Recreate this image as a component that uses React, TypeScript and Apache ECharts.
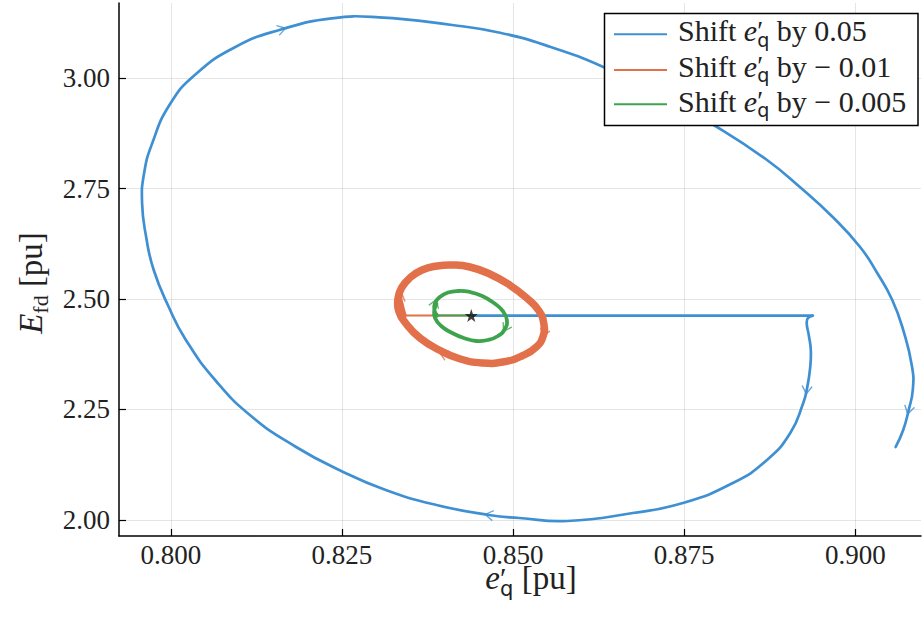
import React, { useEffect, useRef } from "react";
import * as echarts from "echarts";

// ---------- data ----------
const xTickValues = [0.8, 0.825, 0.85, 0.875, 0.9];
const yTickValues = [2.0, 2.25, 2.5, 2.75, 3.0];
const xRange = [0.79243, 0.9096];
const yRange = [1.9633, 3.1703];

const equilibrium = [[0.8439, 2.4625]];

const blueJump = [
  [0.8439, 2.4625],
  [0.8938, 2.4625],
];
const blueTrajectory = [
  [0.8938, 2.4625], [0.8931, 2.457], [0.8929, 2.4457], [0.8932, 2.4185],
  [0.8935, 2.3845], [0.8934, 2.3437], [0.8929, 2.2939], [0.8924, 2.2645],
  [0.8905, 2.1966], [0.8871, 2.1354], [0.8821, 2.0833], [0.8748, 2.038],
  [0.8675, 2.0154], [0.8579, 1.9973], [0.8509, 2.0041], [0.8465, 2.0109],
  [0.8388, 2.0335], [0.8314, 2.0675], [0.8246, 2.1128], [0.8183, 2.1649],
  [0.8119, 2.2328], [0.8066, 2.3143], [0.8022, 2.4072], [0.7997, 2.4819],
  [0.7975, 2.5657], [0.7964, 2.6404], [0.7958, 2.7174], [0.7961, 2.7853],
  [0.7973, 2.8533], [0.7998, 2.9393], [0.8035, 3.0073], [0.8095, 3.0713],
  [0.8162, 3.1107], [0.8235, 3.1356], [0.8304, 3.1379], [0.8411, 3.1205],
  [0.8481, 3.103], [0.8554, 3.0713], [0.8631, 3.026], [0.8715, 2.962],
  [0.8798, 2.8895], [0.8871, 2.8148], [0.8919, 2.7536], [0.8967, 2.6857],
  [0.9007, 2.6178], [0.9032, 2.5589], [0.9054, 2.4977], [0.907, 2.4298],
  [0.9083, 2.346], [0.9084, 2.2939], [0.9078, 2.2486], [0.907, 2.2033],
  [0.9059, 2.1649],
];

const orangeJump = [
  [0.8439, 2.4625],
  [0.8339, 2.4625],
];
const orangeTrajectory = [
  [0.8339, 2.4625], [0.8335, 2.4864], [0.8333, 2.5068], [0.8338, 2.5272],
  [0.8349, 2.5476], [0.8367, 2.5657], [0.8389, 2.5747], [0.8411, 2.577],
  [0.8437, 2.5725], [0.8466, 2.5566], [0.8495, 2.5317], [0.852, 2.5023],
  [0.8538, 2.4728], [0.8545, 2.4434], [0.8544, 2.4162], [0.8534, 2.3913],
  [0.8513, 2.3709], [0.8485, 2.3573], [0.8455, 2.3551], [0.8423, 2.3641],
  [0.8392, 2.3845], [0.8364, 2.4117], [0.8344, 2.4434], [0.8333, 2.4728],
  [0.8332, 2.5023], [0.8337, 2.525], [0.8348, 2.546],
];

const greenJump = [
  [0.8439, 2.4625],
  [0.8389, 2.4625],
];
const greenTrajectory = [
  [0.8389, 2.4625], [0.8385, 2.4751], [0.8386, 2.4909], [0.8393, 2.5045],
  [0.8405, 2.5147], [0.842, 2.5181], [0.8437, 2.5159], [0.8455, 2.5068],
  [0.8472, 2.4909], [0.8485, 2.4728], [0.8491, 2.4524], [0.8488, 2.4321],
  [0.8478, 2.4162], [0.8463, 2.4072], [0.8446, 2.4049], [0.8428, 2.4117],
  [0.8411, 2.423], [0.8395, 2.4389], [0.8386, 2.457], [0.8385, 2.4751],
  [0.8388, 2.489],
];

// [x, y, direction in degrees]
const blueArrows = [
  [0.8162, 3.1107, 16],
  [0.8929, 2.2939, -96],
  [0.9078, 2.2486, -104],
  [0.8465, 2.0109, 171],
];
const orangeArrows = [
  [0.8336, 2.5052, 80],
  [0.8398, 2.3755, 157],
  [0.8545, 2.423, -110],
];
const greenArrows = [
  [0.8386, 2.4903, 70],
  [0.8489, 2.4343, -120],
];

const legendShifts = ["0.05", "\u2212 0.01", "\u2212 0.005"];

// ---------- styles ----------
const BLUE = "#3F90D3";
const ORANGE = "#E2704A";
const GREEN = "#3DA44D";
const SERIF = "Liberation Serif";
const SANS = "DejaVu Sans";
const TEXT = "#222";

const STAR =
  "path://M50,0 L61.8,33.8 L97.6,34.5 L69,56.2 L79.4,90.5 L50,70 L20.6,90.5 L31,56.2 L2.4,34.5 L38.2,33.8 Z";
const CHEVRON = "path://M0,0 L8,5 L0,10";

type Piece = {
  t: string;
  size: number;
  italic?: boolean;
  sans?: boolean;
  dy?: number;
  noAdvance?: boolean;
};

let measureCtx: CanvasRenderingContext2D | null = null;
function textWidth(p: Piece) {
  if (!measureCtx) measureCtx = document.createElement("canvas").getContext("2d");
  const ctx = measureCtx!;
  ctx.font = `${p.italic ? "italic " : ""}${p.size}px "${p.sans ? SANS : SERIF}"`;
  return ctx.measureText(p.t).width;
}

function mathText(
  pieces: Piece[],
  x: number,
  baseline: number,
  anchor: "left" | "center",
  rotation = 0
) {
  const widths = pieces.map((p) => (p.noAdvance ? 0 : textWidth(p)));
  const total = widths.reduce((a, b) => a + b, 0);
  let cx = anchor === "center" ? -total / 2 : 0;
  const children = pieces.map((p, i) => {
    const el = {
      type: "text",
      x: cx,
      y: (p.dy || 0) - 0.34 * p.size,
      z: 101,
      style: {
        text: p.t,
        fontSize: p.size,
        fontFamily: p.sans ? SANS : SERIF,
        fontStyle: p.italic ? "italic" : "normal",
        fill: TEXT,
        align: "left",
        verticalAlign: "middle",
        textAlign: "left",
        textVerticalAlign: "middle",
      },
    };
    cx += widths[i];
    return el;
  });
  return { type: "group", x, y: baseline, rotation, children, z: 101 };
}

function eqPieces(size: number): Piece[] {
  return [
    { t: "e", size, italic: true },
    { t: "\u2032", size: size * 0.9, dy: -1, noAdvance: true },
    { t: "q", size: size * 0.64, sans: true, dy: size * 0.2 },
  ];
}

export default function App() {
  const ref = useRef<HTMLDivElement>(null);

  useEffect(() => {
    if (!ref.current) return;
    const chart = echarts.init(ref.current, null, { renderer: "svg" });

    const straightSeries = (data: number[][], color: string, width: number, z: number) => ({
      type: "line",
      data,
      showSymbol: false,
      symbol: "none",
      silent: true,
      z,
      lineStyle: { color, width },
      emphasis: { disabled: true },
    });
    const curveSeries = (data: number[][], color: string, width: number, z: number) => ({
      type: "custom",
      data,
      silent: true,
      z,
      encode: { x: 0, y: 1 },
      renderItem: (params: any, api: any) => {
        if (params.dataIndex !== 0) return null;
        const pts = data.map((d) => api.coord(d));
        return {
          type: "polyline",
          shape: { points: pts, smooth: 0.5 },
          style: { stroke: color, lineWidth: width, fill: null, lineJoin: "round", lineCap: "round" },
        };
      },
    });
    const arrowSeries = (data: number[][], color: string, z: number) => ({
      type: "scatter",
      data,
      symbol: CHEVRON,
      symbolSize: [8, 10],
      symbolRotate: (v: number[]) => v[2],
      silent: true,
      z,
      itemStyle: { color: "none", borderColor: color, borderWidth: 1.3 },
      emphasis: { disabled: true },
    });

    const legendRows = legendShifts.map((s, i) => {
      const base = [40.7, 76.5, 111.5][i];
      return mathText(
        [{ t: "Shift ", size: 30 }, ...eqPieces(30), { t: " by " + s, size: 30 }],
        678,
        base,
        "left"
      );
    });
    const legendColors = [BLUE, ORANGE, GREEN];
    const legendLines = [34.3, 70, 104.3].map((y, i) => ({
      type: "line",
      shape: { x1: 614, y1: y, x2: 667, y2: y },
      style: { stroke: legendColors[i], lineWidth: 2 },
      z: 100,
    }));

    chart.setOption({
      animation: false,
      grid: { left: 119, right: 2, top: 3, bottom: 82 },
      xAxis: {
        type: "value",
        min: xRange[0],
        max: xRange[1],
        axisLine: { show: true, onZero: false, lineStyle: { color: "#000", width: 1.5 } },
        axisTick: { show: true, inside: true, length: 7, customValues: xTickValues, lineStyle: { color: "#000", width: 1.2 } },
        axisLabel: {
          customValues: xTickValues,
          formatter: (v: number) => v.toFixed(3),
          fontFamily: SERIF,
          fontSize: 27,
          color: TEXT,
          margin: 5,
        },
        splitLine: { show: true, lineStyle: { color: "rgba(0,0,0,0.1)", width: 1 } },
      },
      yAxis: {
        type: "value",
        min: yRange[0],
        max: yRange[1],
        axisLine: { show: true, onZero: false, lineStyle: { color: "#000", width: 1.5 } },
        axisTick: { show: true, inside: true, length: 7, customValues: yTickValues, lineStyle: { color: "#000", width: 1.2 } },
        axisLabel: {
          customValues: yTickValues,
          formatter: (v: number) => v.toFixed(2),
          fontFamily: SERIF,
          fontSize: 27,
          color: TEXT,
          margin: 9,
        },
        splitLine: { show: true, lineStyle: { color: "rgba(0,0,0,0.1)", width: 1 } },
      },
      series: [
        straightSeries(blueJump, BLUE, 2.7, 2),
        curveSeries(blueTrajectory, BLUE, 2.7, 2),
        arrowSeries(blueArrows, BLUE, 3),
        straightSeries(orangeJump, ORANGE, 2, 4),
        curveSeries(orangeTrajectory, ORANGE, 7.5, 4),
        arrowSeries(orangeArrows, ORANGE, 5),
        straightSeries(greenJump, GREEN, 2, 6),
        curveSeries(greenTrajectory, GREEN, 3.8, 6),
        arrowSeries(greenArrows, GREEN, 7),
        {
          type: "scatter",
          data: equilibrium,
          symbol: STAR,
          symbolSize: 13,
          silent: true,
          z: 10,
          itemStyle: { color: "#111" },
        },
      ],
      graphic: [
        {
          type: "rect",
          shape: { x: 604.5, y: 13.5, width: 313.5, height: 112 },
          style: { fill: "#fff", stroke: "#000", lineWidth: 1.5 },
          z: 99,
        },
        ...legendLines,
        ...legendRows,
        mathText([...eqPieces(33), { t: " [pu]", size: 33 }], 531, 589, "center"),
        mathText(
          [
            { t: "E", size: 33, italic: true },
            { t: "fd", size: 22, dy: 6 },
            { t: " [pu]", size: 33 },
          ],
          42,
          283,
          "center",
          Math.PI / 2
        ),
      ],
    });

    return () => chart.dispose();
  }, []);

  return (
    <div
      ref={ref}
      style={{ position: "absolute", left: 0, top: 0, width: 923, height: 618, background: "#fff" }}
    />
  );
}
